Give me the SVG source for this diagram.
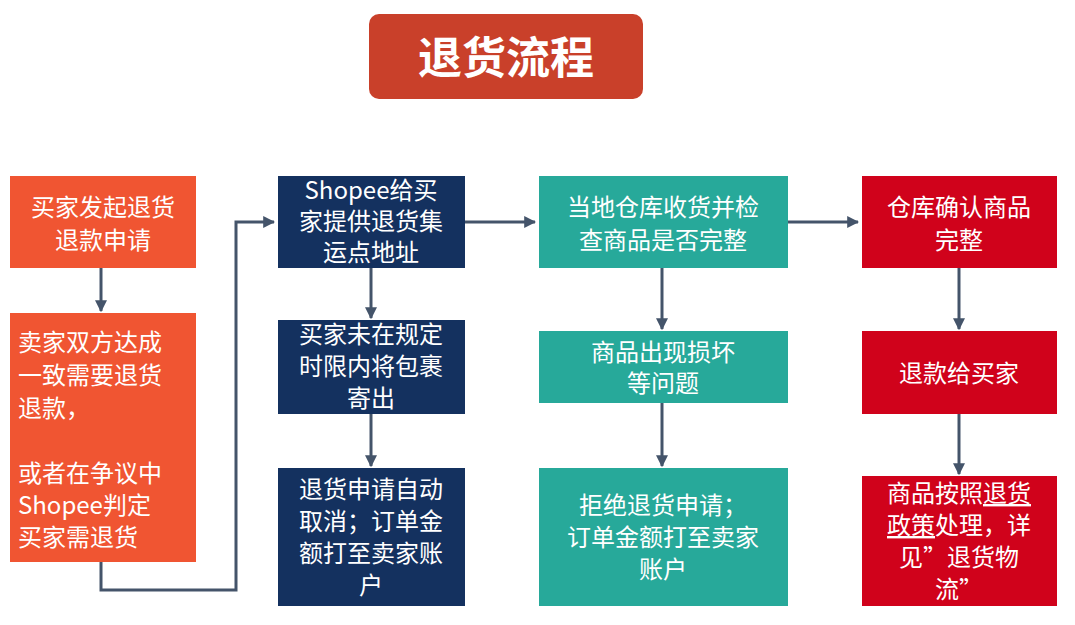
<svg xmlns="http://www.w3.org/2000/svg" width="1075" height="625" viewBox="0 0 1075 625">
<defs>
<marker id="ah" viewBox="0 0 10 10" refX="9" refY="5" markerWidth="4" markerHeight="4" orient="auto"><path d="M0,0 L10,5 L0,10 z" fill="#44546A"/></marker>
<style>
text{font-family:"Noto Sans CJK SC","Noto Sans",sans-serif;fill:#fff;font-size:24px}
.c{text-anchor:middle}
.l{fill:none;stroke:#44546A;stroke-width:3;marker-end:url(#ah)}
.o{fill:#F05532}.n{fill:#14315F}.t{fill:#27A99A}.r{fill:#D0021B}
</style>
</defs>
<rect width="1075" height="625" fill="#fff"/>
<g id="title"><rect x="369" y="14" width="274" height="85" rx="10" fill="#C9402A"/><text x="506" y="74" class="c" style="font-size:44px;font-weight:bold">退货流程</text></g>
<g id="connectors">
<path class="l" d="M101,268 V311"/>
<path class="l" d="M101,562 V590 H236 V222 H274"/>
<path class="l" d="M371,268 V318"/>
<path class="l" d="M371,414 V466"/>
<path class="l" d="M465,222 H535"/>
<path class="l" d="M662,268 V329"/>
<path class="l" d="M662,403 V466"/>
<path class="l" d="M788,222 H858"/>
<path class="l" d="M959,268 V329"/>
<path class="l" d="M959,414 V474"/>
</g>
<g id="a"><rect class="o" x="10" y="176" width="186" height="92"/><text class="c" x="103" y="216">买家发起退货</text><text class="c" x="103" y="249">退款申请</text></g>
<g id="b"><rect class="o" x="10" y="313" width="186" height="249"/><text x="18" y="351">卖家双方达成</text><text x="18" y="384">一致需要退货</text><text x="18" y="417">退款，</text><text x="18" y="482">或者在争议中</text><text x="18" y="514">Shopee判定</text><text x="18" y="546">买家需退货</text></g>
<g id="c"><rect class="n" x="278" y="176" width="187" height="92"/><text class="c" x="371" y="199">Shopee给买</text><text class="c" x="371" y="230">家提供退货集</text><text class="c" x="371" y="261">运点地址</text></g>
<g id="d"><rect class="n" x="278" y="320" width="187" height="94"/><text class="c" x="371" y="343">买家未在规定</text><text class="c" x="371" y="375">时限内将包裹</text><text class="c" x="371" y="407">寄出</text></g>
<g id="e"><rect class="n" x="278" y="468" width="187" height="138"/><text class="c" x="371" y="498">退货申请自动</text><text class="c" x="371" y="530">取消；订单金</text><text class="c" x="371" y="562">额打至卖家账</text><text class="c" x="371" y="594">户</text></g>
<g id="f"><rect class="t" x="539" y="176" width="249" height="92"/><text class="c" x="663" y="216">当地仓库收货并检</text><text class="c" x="663" y="249">查商品是否完整</text></g>
<g id="g"><rect class="t" x="539" y="331" width="249" height="72"/><text class="c" x="663" y="361">商品出现损坏</text><text class="c" x="663" y="392">等问题</text></g>
<g id="h"><rect class="t" x="539" y="468" width="249" height="138"/><text class="c" x="663" y="514">拒绝退货申请；</text><text class="c" x="663" y="546">订单金额打至卖家</text><text class="c" x="663" y="578">账户</text></g>
<g id="i"><rect class="r" x="862" y="176" width="195" height="92"/><text class="c" x="959" y="216">仓库确认商品</text><text class="c" x="959" y="249">完整</text></g>
<g id="j"><rect class="r" x="862" y="331" width="195" height="83"/><text class="c" x="959" y="382">退款给买家</text></g>
<g id="k"><rect class="r" x="862" y="476" width="195" height="130"/><text class="c" x="959" y="502">商品按照<tspan text-decoration="underline">退货</tspan></text><text class="c" x="959" y="534"><tspan text-decoration="underline">政策</tspan>处理，详</text><text class="c" x="959" y="566">见”退货物</text><text class="c" x="959" y="598">流”</text></g>
</svg>
